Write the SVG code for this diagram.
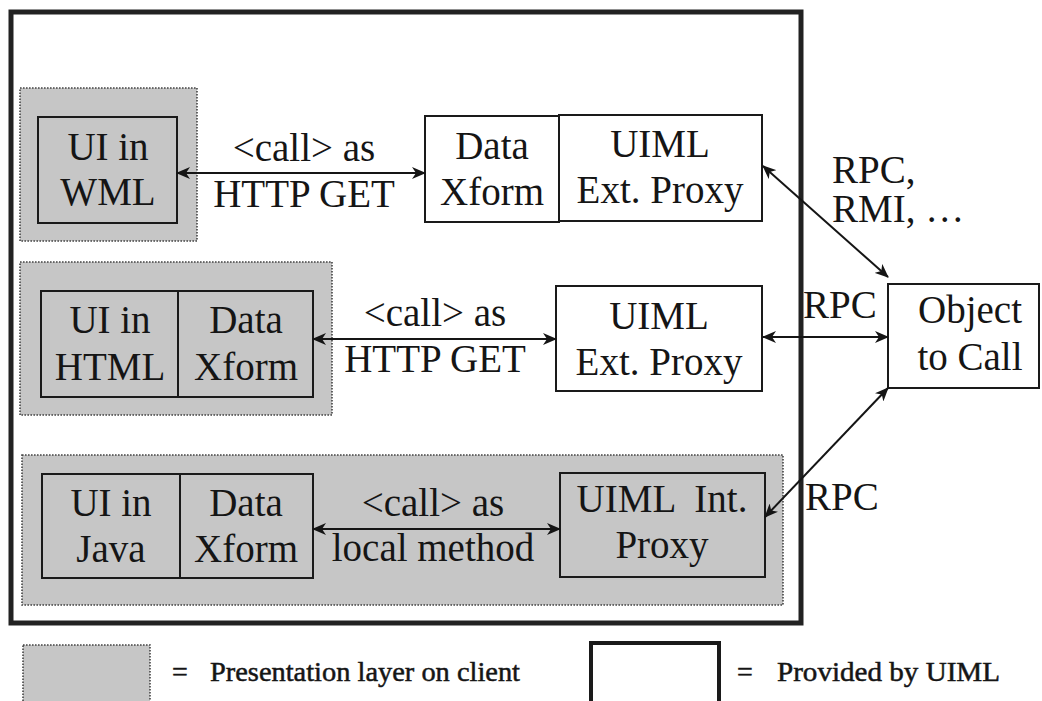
<svg xmlns="http://www.w3.org/2000/svg" width="1042" height="701" viewBox="0 0 1042 701" font-family="'Liberation Serif', Tinos, 'Times New Roman', 'DejaVu Serif', serif">
  <style>
    text { font-family: "Liberation Serif", Tinos, "Times New Roman", "DejaVu Serif", serif; fill: #151515; }
    .lbl { font-size: 39px; text-anchor: middle; }
    .start { text-anchor: start; }
    .leg { font-size: 28px; stroke: #151515; stroke-width: 0.5; }
    .client { fill: #c6c6c6; stroke: #444; stroke-width: 1.6; stroke-dasharray: 1.6 1.4; }
    .box { fill: #ffffff; stroke: #1a1a1a; stroke-width: 2; }
    .gbox { fill: #c6c6c6; stroke: #1a1a1a; stroke-width: 2; }
    .frame { fill: none; stroke: #222; stroke-width: 5; }
    .conn line { stroke: #151515; stroke-width: 2; marker-start: url(#tip); marker-end: url(#tip); }
  </style>
  <defs>
    <marker id="tip" viewBox="0 0 14 12" refX="13" refY="6" markerWidth="14" markerHeight="12" markerUnits="userSpaceOnUse" orient="auto-start-reverse">
      <path d="M0,0 L14,6 L0,12 L4,6 z" fill="#151515"/>
    </marker>
  </defs>

  <rect width="1042" height="701" fill="#ffffff"/>

  <!-- client-side presentation layers -->
  <rect id="layer-wml" class="client" x="20" y="88" width="177" height="153"/>
  <rect id="layer-html" class="client" x="20" y="262" width="312" height="153"/>
  <rect id="layer-java" class="client" x="22" y="455" width="761" height="150"/>

  <!-- application frame -->
  <rect class="frame" x="11" y="12" width="790" height="611"/>

  <g id="ui-wml">
    <rect class="gbox" x="38" y="117" width="139" height="106"/>
    <text class="lbl" x="108" y="160">UI in</text>
    <text class="lbl" x="108" y="205">WML</text>
  </g>

  <g id="xform-1">
    <rect class="box" x="425" y="116" width="134" height="106"/>
    <text class="lbl" x="492" y="159">Data</text>
    <text class="lbl" x="492" y="205">Xform</text>
  </g>

  <g id="ext-proxy-1">
    <rect class="box" x="559" y="115" width="203" height="106"/>
    <text class="lbl" x="660" y="157">UIML</text>
    <text class="lbl" x="660" y="203">Ext. Proxy</text>
  </g>

  <g id="ui-html">
    <rect class="gbox" x="41" y="291" width="137" height="106"/>
    <text class="lbl" x="110" y="333">UI in</text>
    <text class="lbl" x="110" y="380">HTML</text>
  </g>

  <g id="xform-2">
    <rect class="gbox" x="178" y="291" width="135" height="106"/>
    <text class="lbl" x="246" y="333">Data</text>
    <text class="lbl" x="246" y="380">Xform</text>
  </g>

  <g id="ext-proxy-2">
    <rect class="box" x="556" y="286" width="206" height="105"/>
    <text class="lbl" x="659" y="329">UIML</text>
    <text class="lbl" x="659" y="375">Ext. Proxy</text>
  </g>

  <g id="ui-java">
    <rect class="gbox" x="42" y="474" width="138" height="104"/>
    <text class="lbl" x="111" y="516">UI in</text>
    <text class="lbl" x="111" y="562">Java</text>
  </g>

  <g id="xform-3">
    <rect class="gbox" x="180" y="474" width="133" height="104"/>
    <text class="lbl" x="246" y="516">Data</text>
    <text class="lbl" x="246" y="562">Xform</text>
  </g>

  <g id="int-proxy">
    <rect class="gbox" x="560" y="473" width="205" height="104"/>
    <text class="lbl" x="662" y="512" xml:space="preserve">UIML  Int.</text>
    <text class="lbl" x="662" y="558">Proxy</text>
  </g>

  <g id="object">
    <rect class="box" x="888" y="284" width="151" height="104"/>
    <text class="lbl" x="970" y="323">Object</text>
    <text class="lbl" x="970" y="370">to Call</text>
  </g>

  <!-- connectors -->
  <g id="connectors" class="conn">
    <line x1="177" y1="173" x2="425" y2="173"/>
    <line x1="313" y1="339" x2="556" y2="339"/>
    <line x1="313" y1="529" x2="560" y2="529"/>
    <line x1="763" y1="166" x2="888" y2="277"/>
    <line x1="763" y1="337" x2="888" y2="337"/>
    <line x1="888" y1="388" x2="765" y2="517"/>
  </g>

  <g id="connector-labels">
    <text class="lbl" x="304" y="161">&lt;call&gt; as</text>
    <text class="lbl" x="304" y="207">HTTP GET</text>
    <text class="lbl" x="435" y="326">&lt;call&gt; as</text>
    <text class="lbl" x="435" y="372">HTTP GET</text>
    <text class="lbl" x="433" y="516">&lt;call&gt; as</text>
    <text class="lbl" x="433" y="561">local method</text>
    <text class="lbl start" x="832" y="183">RPC,</text>
    <text class="lbl start" x="832" y="222">RMI, …</text>
    <text class="lbl start" x="803" y="318">RPC</text>
    <text class="lbl start" x="805" y="510">RPC</text>
  </g>

  <!-- legend -->
  <g id="legend">
    <rect class="client" x="23" y="645" width="127" height="60"/>
    <text class="leg" x="172" y="681">=</text>
    <text class="leg" x="210" y="681" textLength="310" lengthAdjust="spacingAndGlyphs">Presentation layer on client</text>
    <rect x="591" y="643" width="128" height="62" fill="#ffffff" stroke="#1a1a1a" stroke-width="4"/>
    <text class="leg" x="737" y="681">=</text>
    <text class="leg" x="777" y="681" textLength="223" lengthAdjust="spacingAndGlyphs">Provided by UIML</text>
  </g>
</svg>
